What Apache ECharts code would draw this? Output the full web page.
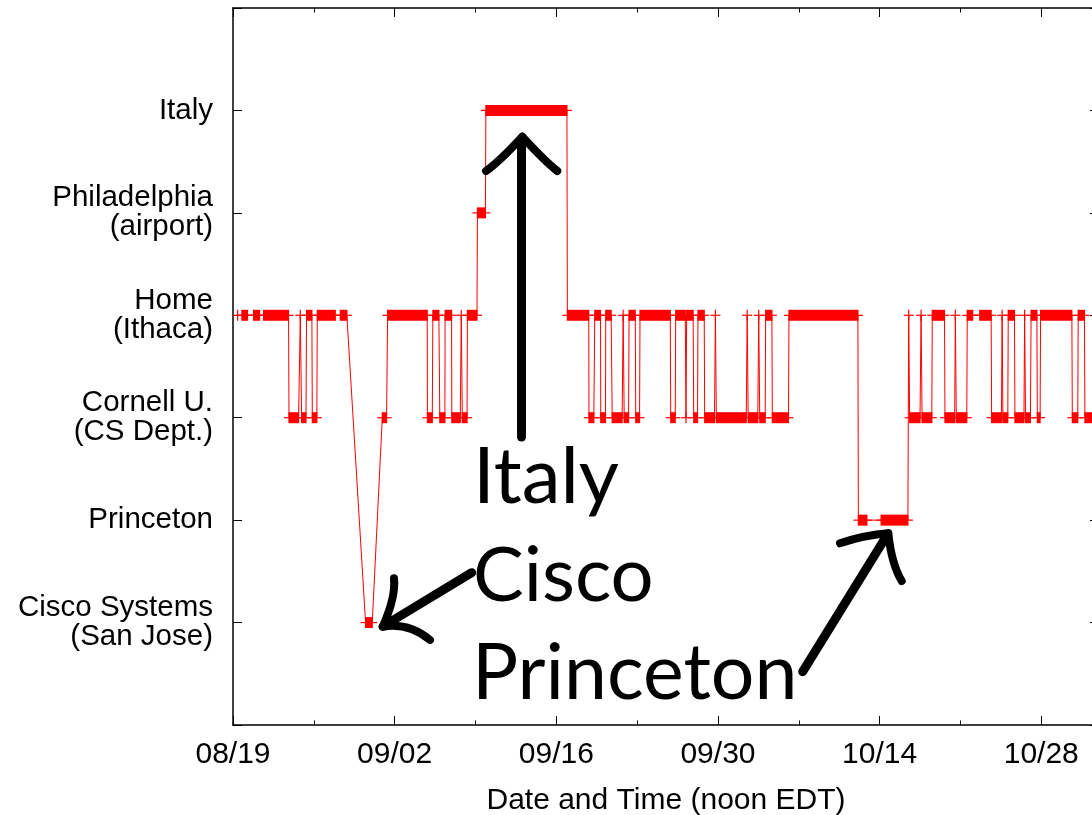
<!DOCTYPE html>
<html>
<head>
<meta charset="utf-8">
<script src="https://cdn.jsdelivr.net/npm/echarts/dist/echarts.min.js"></script>
<style>
  html, body { margin: 0; padding: 0; background: #fff; overflow: hidden; }
  #chart { width: 1092px; height: 815px; }
</style>
</head>
<body>
<div id="chart"></div>
<script>
// ---- data ----
// y levels: 1..6 ; labels indexed by level
const locationLabels = ['', 'Cisco Systems\n(San Jose)', 'Princeton', 'Cornell U.\n(CS Dept.)',
  'Home\n(Ithaca)', 'Philadelphia\n(airport)', 'Italy', ''];
// x axis: days since 08/19; major tick every 14 days
const xTickLabels = ['08/19', '09/02', '09/16', '09/30', '10/14', '10/28'];
// runs of consecutive readings at one location (start day, end day, location level)
const runStartDay = [0.4,0.77,1.78,2.65,4.85,5.83,5.94,6.37,6.87,7.3,
  9.29,11.48,12.93,13.39,16.84,17.31,17.91,18.37,18.95,19.77,
  19.86,20.3,21.17,21.9,28.96,30.83,31.33,31.85,32.28,32.84,
  33.79,33.88,34.3,34.88,35.25,37.91,38.34,39.23,39.29,39.9,
  40.27,40.85,41.78,41.86,44.53,44.62,45.53,45.62,46.13,46.71,
  48.15,54.16,56.13,58.52,58.6,59.59,59.68,60.56,61.66,62.56,
  62.64,63.59,64.67,65.7,66.61,66.68,67.14,67.72,68.56,68.64,
  69.12,69.66,69.94,72.69,73.2,73.78];
const runEndDay = [0.4,1.26,2.3,4.81,5.68,5.83,6.32,6.83,7.26,8.86,
  9.86,12.06,13.3,16.82,17.26,17.83,18.35,18.93,19.68,19.77,
  20.27,21.13,21.86,28.92,30.81,31.25,31.83,32.26,32.75,33.7,
  33.79,34.26,34.84,35.21,37.87,38.3,39.17,39.23,39.85,40.23,
  40.81,41.7,41.78,44.45,44.53,45.45,45.53,46.09,46.67,48.11,
  54.12,54.9,58.45,58.52,59.5,59.59,60.52,61.62,62.5,62.56,
  63.55,64.06,65.66,66.55,66.61,67.1,67.68,68.5,68.56,69.06,
  69.62,69.9,72.65,73.16,73.74,75.5];
const runLevel = [4,4,4,4,3,4,3,4,3,4,
  4,1,3,4,3,4,3,4,3,4,
  3,4,5,6,4,3,4,3,4,3,
  4,3,4,3,4,3,4,3,4,3,
  4,3,4,3,4,3,4,3,4,3,
  4,2,2,4,3,4,3,4,3,4,
  3,4,4,3,4,3,4,3,4,3,
  4,3,4,3,4,3];

// ---- build series data ----
const runs = runStartDay.map((s, i) => [s, runEndDay[i], runLevel[i]]);
const lineData = [];
runs.forEach(r => {
  lineData.push([r[0], r[2]]);
  if (r[1] > r[0]) lineData.push([r[1], r[2]]);
});

const RED = '#ff0000';
const FONT = 'Liberation Sans, Arial, sans-serif';
const BIG = 'Lato, sans-serif';

const chart = echarts.init(document.getElementById('chart'), null, { renderer: 'canvas' });

function tickAxis(pos, interval, len, showLine) {
  return {
    type: 'value', position: pos, min: 0, max: 75, interval: interval,
    axisLine: { show: showLine, onZero: false, lineStyle: { color: '#000', width: 1.5 } },
    axisTick: { show: true, inside: true, length: len, lineStyle: { color: '#000', width: 1 } },
    axisLabel: { show: false }, splitLine: { show: false }
  };
}

const option = {
  animation: false,
  backgroundColor: '#fff',
  grid: { left: 233, top: 8, width: 866, height: 717, containLabel: false,
          outerBoundsMode: 'none', show: false },
  xAxis: [
    {
      type: 'value', position: 'bottom', min: 0, max: 75, interval: 14,
      axisLine: { show: true, onZero: false, lineStyle: { color: '#000', width: 1.5 } },
      axisTick: { show: true, inside: true, length: 9, lineStyle: { color: '#000', width: 1 } },
      axisLabel: {
        show: true, margin: 15, color: '#000', fontFamily: FONT, fontSize: 30, lineHeight: 30,
        showMinLabel: true, showMaxLabel: true, hideOverlap: false,
        formatter: v => (v % 14 === 0 && v / 14 < xTickLabels.length) ? xTickLabels[v / 14] : ''
      },
      splitLine: { show: false },
      name: 'Date and Time (noon EDT)', nameLocation: 'middle', nameGap: 61,
      nameTextStyle: { color: '#000', fontFamily: FONT, fontSize: 30, lineHeight: 30 }
    },
    tickAxis('bottom', 7, 4.5, false),
    tickAxis('top', 14, 9, true),
    tickAxis('top', 7, 4.5, false)
  ],
  yAxis: [
    {
      type: 'value', position: 'left', min: 0, max: 7, interval: 1,
      axisLine: { show: true, onZero: false, lineStyle: { color: '#000', width: 1.5 } },
      axisTick: { show: true, inside: true, length: 9, lineStyle: { color: '#000', width: 1 } },
      axisLabel: {
        show: true, margin: 20, color: '#000', fontFamily: FONT, fontSize: 29.5, lineHeight: 29,
        align: 'right', showMinLabel: true, showMaxLabel: true,
        formatter: v => locationLabels[v] || ''
      },
      splitLine: { show: false }
    },
    {
      type: 'value', position: 'right', min: 0, max: 7, interval: 1,
      axisLine: { show: true, onZero: false, lineStyle: { color: '#000', width: 1.5 } },
      axisTick: { show: true, inside: true, length: 9, lineStyle: { color: '#000', width: 1 } },
      axisLabel: { show: false }, splitLine: { show: false }
    }
  ],
  series: [
    {
      type: 'line', xAxisIndex: 0, yAxisIndex: 0, data: lineData,
      showSymbol: false, symbol: 'none', clip: true,
      lineStyle: { color: RED, width: 1 }, z: 3
    },
    {
      type: 'custom', xAxisIndex: 0, yAxisIndex: 0, data: runs, clip: true, z: 4,
      encode: { x: [0, 1], y: 2 },
      renderItem: function (params, api) {
        const s = api.value(0), e = api.value(1), lv = api.value(2);
        const p0 = api.coord([s, lv]);
        const p1 = api.coord([e, lv]);
        const w = Math.max(p1[0] - p0[0], 0) + 1.2;
        return {
          type: 'group',
          children: [
            { type: 'rect', shape: { x: p0[0] - 0.6, y: p0[1] - 5.5, width: w, height: 11 },
              style: { fill: RED } },
            { type: 'rect', shape: { x: p0[0] - 5, y: p0[1] - 0.6, width: (p1[0] - p0[0]) + 10, height: 1.2 },
              style: { fill: RED } }
          ]
        };
      }
    }
  ],
  graphic: [
    // annotation words
    { type: 'text', x: 473, y: 478, z: 100,
      style: { text: 'Italy', font: '78px ' + BIG, fill: '#000', verticalAlign: 'middle', align: 'left' } },
    { type: 'text', x: 473, y: 576, z: 100,
      style: { text: 'Cisco', font: '76px ' + BIG, fill: '#000', verticalAlign: 'middle', align: 'left' } },
    { type: 'text', x: 472, y: 674, z: 100,
      style: { text: 'Princeton', font: '77px ' + BIG, fill: '#000', verticalAlign: 'middle', align: 'left' } },
    // Italy arrow
    { type: 'line', z: 100, shape: { x1: 521.5, y1: 437, x2: 521.5, y2: 142 },
      style: { stroke: '#000', lineWidth: 9, lineCap: 'round' } },
    { type: 'bezierCurve', z: 100, shape: { x1: 522.3, y1: 136.7, cpx1: 499.7, cpy1: 161.2, x2: 486, y2: 171 },
      style: { stroke: '#000', lineWidth: 8, lineCap: 'round', fill: null } },
    { type: 'bezierCurve', z: 100, shape: { x1: 522.3, y1: 136.7, cpx1: 544.9, cpy1: 161.2, x2: 557.3, y2: 171 },
      style: { stroke: '#000', lineWidth: 8, lineCap: 'round', fill: null } },
    // Cisco arrow
    { type: 'line', z: 100, shape: { x1: 471.7, y1: 572.7, x2: 386, y2: 624.5 },
      style: { stroke: '#000', lineWidth: 9, lineCap: 'round' } },
    { type: 'bezierCurve', z: 100, shape: { x1: 382.7, y1: 626.7, cpx1: 396, cpy1: 597, x2: 394, y2: 578.3 },
      style: { stroke: '#000', lineWidth: 8, lineCap: 'round', fill: null } },
    { type: 'bezierCurve', z: 100, shape: { x1: 382.7, y1: 626.7, cpx1: 408.8, cpy1: 622.4, x2: 430, y2: 640 },
      style: { stroke: '#000', lineWidth: 8, lineCap: 'round', fill: null } },
    // Princeton arrow
    { type: 'line', z: 100, shape: { x1: 802.7, y1: 671.7, x2: 886.5, y2: 536 },
      style: { stroke: '#000', lineWidth: 9, lineCap: 'round' } },
    { type: 'bezierCurve', z: 100, shape: { x1: 888.3, y1: 533.3, cpx1: 865, cpy1: 535, x2: 840, y2: 543.3 },
      style: { stroke: '#000', lineWidth: 8, lineCap: 'round', fill: null } },
    { type: 'bezierCurve', z: 100, shape: { x1: 888.3, y1: 533.3, cpx1: 891.4, cpy1: 563.4, x2: 901.7, y2: 581 },
      style: { stroke: '#000', lineWidth: 8, lineCap: 'round', fill: null } }
  ]
};

chart.setOption(option);
</script>
</body>
</html>
